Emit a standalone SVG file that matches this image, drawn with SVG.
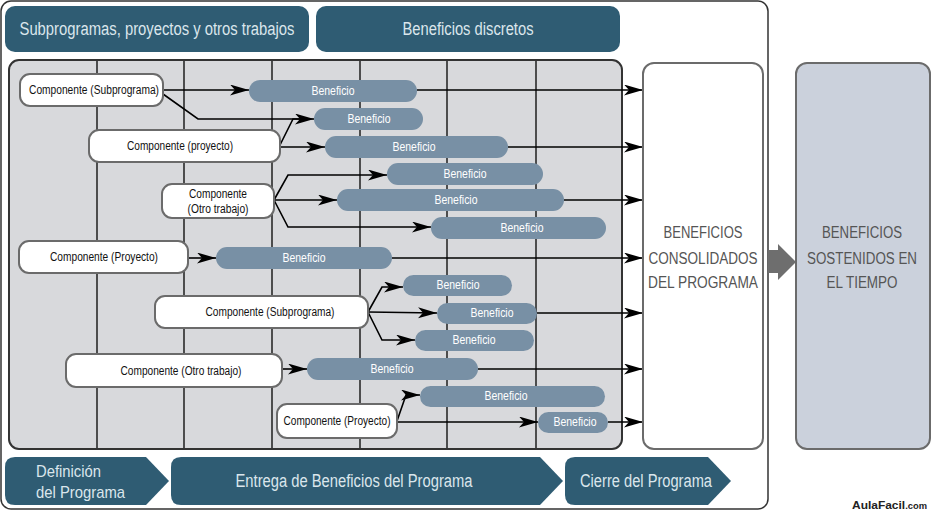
<svg xmlns="http://www.w3.org/2000/svg" width="931" height="511" viewBox="0 0 931 511">
<defs>
<style>
.t{font-family:"Liberation Sans",Arial,sans-serif}
.hdr{fill:#2f5c73}
.hdrt{fill:#dbe6ec;font-size:18px;text-anchor:middle}
.comp{fill:#ffffff;stroke:#6b6b6b;stroke-width:2}
.compt{fill:#111;font-size:12px;text-anchor:middle}
.pill{fill:#7890a5}
.pillt{fill:#ffffff;font-size:12px;text-anchor:middle}
.grid{stroke:#2a2a2a;stroke-width:1.6}
.con{fill:none;stroke:#000;stroke-width:1.6}
.big{fill:#555;font-size:16px;text-anchor:middle}
</style>
<marker id="ah" markerUnits="userSpaceOnUse" markerWidth="20" markerHeight="12" refX="19" refY="5.5" orient="auto">
<path d="M0,0 L19,5.5 L0,11 L5,5.5 z" fill="#000"/>
</marker>
</defs>

<rect x="1" y="1" width="767" height="508" rx="10" fill="#fff" stroke="#333" stroke-width="1.5"/>

<g id="header-sub"><rect class="hdr" x="5" y="6" width="304" height="46" rx="10"/><text class="t hdrt" x="157" y="35" textLength="275" lengthAdjust="spacingAndGlyphs">Subprogramas, proyectos y otros trabajos</text></g>
<g id="header-ben"><rect class="hdr" x="316" y="6" width="304" height="46" rx="10"/><text class="t hdrt" x="468" y="35" textLength="131" lengthAdjust="spacingAndGlyphs">Beneficios discretos</text></g>

<g id="chart">
<rect x="9" y="60" width="613" height="389" rx="10" fill="#d8d9dc" stroke="#333" stroke-width="2"/>
<line class="grid" x1="97" y1="61" x2="97" y2="448"/>
<line class="grid" x1="184" y1="61" x2="184" y2="448"/>
<line class="grid" x1="272" y1="61" x2="272" y2="448"/>
<line class="grid" x1="360" y1="61" x2="360" y2="448"/>
<line class="grid" x1="447" y1="61" x2="447" y2="448"/>
<line class="grid" x1="536" y1="61" x2="536" y2="448"/>
</g>

<g id="connectors">
<line class="con" x1="163" y1="90" x2="249" y2="90" marker-end="url(#ah)"/>
<line class="con" x1="417" y1="90" x2="643" y2="90" marker-end="url(#ah)"/>
<polyline class="con" points="163,94 198,119 314,119" marker-end="url(#ah)"/>
<polyline class="con" points="280,145 293,119 300,119"/>
<line class="con" x1="280" y1="147" x2="325" y2="147" marker-end="url(#ah)"/>
<line class="con" x1="508" y1="147" x2="643" y2="147" marker-end="url(#ah)"/>
<polyline class="con" points="274,200 288,175 387,175" marker-end="url(#ah)"/>
<line class="con" x1="274" y1="200" x2="337" y2="200" marker-end="url(#ah)"/>
<polyline class="con" points="274,200 288,227 431,227" marker-end="url(#ah)"/>
<line class="con" x1="564" y1="200" x2="643" y2="200" marker-end="url(#ah)"/>
<line class="con" x1="188" y1="258" x2="216" y2="258" marker-end="url(#ah)"/>
<line class="con" x1="392" y1="258" x2="643" y2="258" marker-end="url(#ah)"/>
<polyline class="con" points="368,312 382,287 403,287" marker-end="url(#ah)"/>
<line class="con" x1="368" y1="312" x2="437" y2="313" marker-end="url(#ah)"/>
<polyline class="con" points="368,312 382,340 415,340" marker-end="url(#ah)"/>
<line class="con" x1="537" y1="313" x2="643" y2="313" marker-end="url(#ah)"/>
<line class="con" x1="282" y1="369" x2="307" y2="369" marker-end="url(#ah)"/>
<line class="con" x1="478" y1="369" x2="643" y2="369" marker-end="url(#ah)"/>
<polyline class="con" points="397,421 406,395 420,395" marker-end="url(#ah)"/>
<line class="con" x1="397" y1="422" x2="538" y2="422" marker-end="url(#ah)"/>
<line class="con" x1="608" y1="422" x2="643" y2="422" marker-end="url(#ah)"/>
</g>

<g id="c1"><rect class="comp" x="20" y="74" width="143" height="32" rx="10"/><text class="t compt" x="94" y="94" textLength="130" lengthAdjust="spacingAndGlyphs">Componente (Subprograma)</text></g>
<g id="c2"><rect class="comp" x="89" y="130" width="191" height="32" rx="10"/><text class="t compt" x="180" y="150" textLength="106" lengthAdjust="spacingAndGlyphs">Componente (proyecto)</text></g>
<g id="c3"><rect class="comp" x="162" y="184" width="112" height="34" rx="10"/><text class="t compt" x="218" y="198" textLength="58" lengthAdjust="spacingAndGlyphs">Componente</text><text class="t compt" x="218" y="213" textLength="61" lengthAdjust="spacingAndGlyphs">(Otro trabajo)</text></g>
<g id="c4"><rect class="comp" x="19" y="241" width="169" height="32" rx="10"/><text class="t compt" x="104" y="261" textLength="108" lengthAdjust="spacingAndGlyphs">Componente (Proyecto)</text></g>
<g id="c5"><rect class="comp" x="155" y="296" width="213" height="32" rx="10"/><text class="t compt" x="270" y="316" textLength="129" lengthAdjust="spacingAndGlyphs">Componente (Subprograma)</text></g>
<g id="c6"><rect class="comp" x="66" y="354" width="216" height="33" rx="10"/><text class="t compt" x="181" y="375" textLength="121" lengthAdjust="spacingAndGlyphs">Componente (Otro trabajo)</text></g>
<g id="c7"><rect class="comp" x="277" y="404" width="120" height="34" rx="10"/><text class="t compt" x="337" y="425" textLength="107" lengthAdjust="spacingAndGlyphs">Componente (Proyecto)</text></g>

<g id="b1"><rect class="pill" x="249" y="80" width="168" height="22" rx="11"/><text class="t pillt" x="333" y="95" textLength="43" lengthAdjust="spacingAndGlyphs">Beneficio</text></g>
<g id="b2"><rect class="pill" x="314" y="108" width="109" height="22" rx="11"/><text class="t pillt" x="369" y="123" textLength="43" lengthAdjust="spacingAndGlyphs">Beneficio</text></g>
<g id="b3"><rect class="pill" x="325" y="136" width="183" height="22" rx="11"/><text class="t pillt" x="414" y="151" textLength="43" lengthAdjust="spacingAndGlyphs">Beneficio</text></g>
<g id="b4"><rect class="pill" x="387" y="163" width="156" height="22" rx="11"/><text class="t pillt" x="465" y="178" textLength="43" lengthAdjust="spacingAndGlyphs">Beneficio</text></g>
<g id="b5"><rect class="pill" x="337" y="189" width="227" height="22" rx="11"/><text class="t pillt" x="456" y="204" textLength="43" lengthAdjust="spacingAndGlyphs">Beneficio</text></g>
<g id="b6"><rect class="pill" x="431" y="217" width="175" height="22" rx="11"/><text class="t pillt" x="522" y="232" textLength="43" lengthAdjust="spacingAndGlyphs">Beneficio</text></g>
<g id="b7"><rect class="pill" x="216" y="247" width="176" height="22" rx="11"/><text class="t pillt" x="304" y="262" textLength="43" lengthAdjust="spacingAndGlyphs">Beneficio</text></g>
<g id="b8"><rect class="pill" x="403" y="275" width="109" height="21" rx="10.5"/><text class="t pillt" x="458" y="289" textLength="43" lengthAdjust="spacingAndGlyphs">Beneficio</text></g>
<g id="b9"><rect class="pill" x="437" y="303" width="100" height="21" rx="10.5"/><text class="t pillt" x="492" y="317" textLength="43" lengthAdjust="spacingAndGlyphs">Beneficio</text></g>
<g id="b10"><rect class="pill" x="415" y="330" width="119" height="21" rx="10.5"/><text class="t pillt" x="474" y="344" textLength="43" lengthAdjust="spacingAndGlyphs">Beneficio</text></g>
<g id="b11"><rect class="pill" x="307" y="358" width="171" height="22" rx="11"/><text class="t pillt" x="392" y="373" textLength="43" lengthAdjust="spacingAndGlyphs">Beneficio</text></g>
<g id="b12"><rect class="pill" x="420" y="386" width="185" height="21" rx="10.5"/><text class="t pillt" x="506" y="400" textLength="43" lengthAdjust="spacingAndGlyphs">Beneficio</text></g>
<g id="b13"><rect class="pill" x="538" y="412" width="70" height="21" rx="10.5"/><text class="t pillt" x="575" y="426" textLength="43" lengthAdjust="spacingAndGlyphs">Beneficio</text></g>

<g id="consolidados"><rect x="643" y="63" width="120" height="386" rx="11" fill="#fff" stroke="#6b6b6b" stroke-width="2"/>
<text class="t big" x="703" y="238" textLength="79" lengthAdjust="spacingAndGlyphs">BENEFICIOS</text><text class="t big" x="703" y="264" textLength="109" lengthAdjust="spacingAndGlyphs">CONSOLIDADOS</text><text class="t big" x="703" y="288" textLength="110" lengthAdjust="spacingAndGlyphs">DEL PROGRAMA</text></g>

<g id="flecha"><path d="M768,250 L778,250 L778,244 L796,262 L778,280 L778,273 L768,273 z" fill="#6e6e6e"/></g>

<g id="sostenidos"><rect x="796" y="63" width="134" height="386" rx="11" fill="#cbd1dc" stroke="#6b6b6b" stroke-width="2"/>
<text class="t big" x="862" y="238" textLength="80" lengthAdjust="spacingAndGlyphs">BENEFICIOS</text><text class="t big" x="862" y="264" textLength="110" lengthAdjust="spacingAndGlyphs">SOSTENIDOS EN</text><text class="t big" x="862" y="288" textLength="71" lengthAdjust="spacingAndGlyphs">EL TIEMPO</text></g>

<g id="fase1"><path d="M15,457 L146,457 L169,481 L146,505 L15,505 Q5,505 5,495 L5,467 Q5,457 15,457 z" fill="#2f5c73"/>
<text class="t" x="36" y="477" fill="#dbe6ec" font-size="17" textLength="65" lengthAdjust="spacingAndGlyphs">Definición</text><text class="t" x="36" y="498" fill="#dbe6ec" font-size="17" textLength="89" lengthAdjust="spacingAndGlyphs">del Programa</text></g>
<g id="fase2"><path d="M181,457 L540,457 L563,481 L540,505 L181,505 Q171,505 171,495 L171,467 Q171,457 181,457 z" fill="#2f5c73"/>
<text class="t hdrt" x="354" y="487" font-size="17" textLength="237" lengthAdjust="spacingAndGlyphs">Entrega de Beneficios del Programa</text></g>
<g id="fase3"><path d="M575,457 L708,457 L731,481 L708,505 L575,505 Q565,505 565,495 L565,467 Q565,457 575,457 z" fill="#2f5c73"/>
<text class="t hdrt" x="646" y="487" font-size="17" textLength="132" lengthAdjust="spacingAndGlyphs">Cierre del Programa</text></g>

<text x="852" y="509" font-family="Liberation Sans, sans-serif" font-weight="bold" font-size="11.5" fill="#222" textLength="75" lengthAdjust="spacingAndGlyphs">AulaFacil<tspan font-size="9">.com</tspan></text>
</svg>
